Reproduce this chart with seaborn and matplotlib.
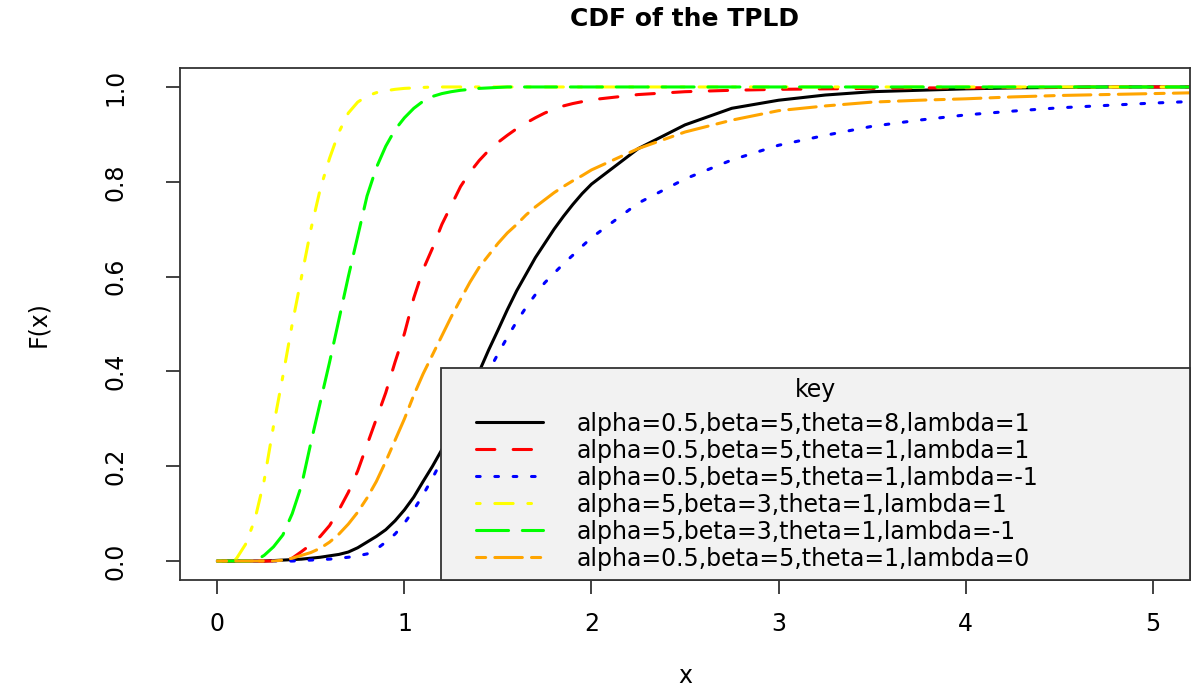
import matplotlib
matplotlib.use("Agg")
import matplotlib.pyplot as plt
import seaborn as sns
import pandas as pd
from matplotlib.lines import Line2D
from matplotlib.legend_handler import HandlerLine2D

# ---- data ----
x_vals = [0.0, 0.05, 0.1, 0.15, 0.2, 0.25, 0.3, 0.35, 0.4, 0.45, 0.5, 0.55, 0.6, 0.65,
          0.7, 0.75, 0.8, 0.85, 0.9, 0.95, 1.0, 1.05, 1.1, 1.15, 1.2, 1.25, 1.3, 1.35,
          1.4, 1.45, 1.5, 1.55, 1.6, 1.65, 1.7, 1.75, 1.8, 1.85, 1.9, 1.95, 2.0,
          2.25, 2.5, 2.75, 3.0, 3.25, 3.5, 3.75, 4.0, 4.25, 4.5, 4.75, 5.0, 5.25]

f_black = [0, 0, 0, 0, 0, 0, 0.001, 0.002, 0.003, 0.004, 0.006, 0.008, 0.011, 0.014,
           0.019, 0.028, 0.04, 0.052, 0.066, 0.085, 0.108, 0.135, 0.168, 0.2, 0.235,
           0.272, 0.312, 0.355, 0.40, 0.445, 0.487, 0.53, 0.57, 0.605, 0.64, 0.67, 0.70,
           0.727, 0.752, 0.775, 0.795,
           0.87, 0.92, 0.955, 0.972, 0.983, 0.99, 0.993, 0.996, 0.998, 0.999, 1, 1, 1]
f_red = [0, 0, 0, 0, 0, 0, 0, 0, 0.006, 0.02, 0.035, 0.052, 0.075, 0.108, 0.145, 0.19,
         0.245, 0.30, 0.355, 0.42, 0.48, 0.555, 0.615, 0.66, 0.71, 0.75, 0.79, 0.82,
         0.845, 0.866, 0.883, 0.898, 0.912, 0.924, 0.935, 0.945, 0.953, 0.96, 0.965,
         0.969, 0.973,
         0.984, 0.99, 0.993, 0.995, 0.996, 0.997, 0.998, 0.998, 0.999, 0.999, 1, 1, 1]
f_blue = [0, 0, 0, 0, 0, 0, 0, 0, 0, 0.001, 0.002, 0.003, 0.004, 0.006, 0.008, 0.011,
          0.015, 0.025, 0.04, 0.057, 0.08, 0.108, 0.14, 0.175, 0.213, 0.25, 0.288,
          0.325, 0.362, 0.40, 0.437, 0.472, 0.505, 0.535, 0.562, 0.587, 0.607, 0.627,
          0.645, 0.664, 0.682,
          0.755, 0.806, 0.846, 0.877, 0.898, 0.917, 0.93, 0.941, 0.949, 0.956, 0.961,
          0.966, 0.97]
f_yellow = [0, 0, 0.004, 0.035, 0.087, 0.17, 0.285, 0.39, 0.50, 0.60, 0.70, 0.785, 0.85,
            0.905, 0.945, 0.968, 0.981, 0.988, 0.992, 0.995, 0.997, 0.998, 0.999, 1, 1,
            1, 1, 1, 1, 1, 1, 1, 1, 1, 1, 1, 1, 1, 1, 1, 1,
            1, 1, 1, 1, 1, 1, 1, 1, 1, 1, 1, 1, 1]
f_green = [0, 0, 0, 0, 0, 0.012, 0.03, 0.055, 0.10, 0.16, 0.25, 0.335, 0.42, 0.51, 0.60,
           0.685, 0.77, 0.83, 0.875, 0.91, 0.935, 0.955, 0.97, 0.98, 0.986, 0.99, 0.993,
           0.995, 0.997, 0.998, 0.999, 1, 1, 1, 1, 1, 1, 1, 1, 1, 1,
           1, 1, 1, 1, 1, 1, 1, 1, 1, 1, 1, 1, 1]
f_orange = [0, 0, 0, 0, 0, 0, 0, 0.002, 0.006, 0.012, 0.018, 0.027, 0.04, 0.057, 0.078,
            0.103, 0.133, 0.168, 0.21, 0.255, 0.30, 0.35, 0.395, 0.435, 0.475, 0.515,
            0.552, 0.588, 0.62, 0.645, 0.67, 0.692, 0.71, 0.73, 0.747, 0.762, 0.777,
            0.79, 0.802, 0.813, 0.825,
            0.87, 0.905, 0.93, 0.95, 0.96, 0.968, 0.972, 0.975, 0.979, 0.982, 0.984,
            0.986, 0.988]

labels = [
    "alpha=0.5,beta=5,theta=8,lambda=1",
    "alpha=0.5,beta=5,theta=1,lambda=1",
    "alpha=0.5,beta=5,theta=1,lambda=-1",
    "alpha=5,beta=3,theta=1,lambda=1",
    "alpha=5,beta=3,theta=1,lambda=-1",
    "alpha=0.5,beta=5,theta=1,lambda=0",
]
series = [f_black, f_red, f_blue, f_yellow, f_green, f_orange]
colors = ["#000000", "#FF0000", "#0000FF", "#FFFF00", "#00FF00", "#FFA500"]
# R lty 1..6 (solid, dashed, dotted, dotdash, longdash, twodash)
dash_styles = [None, (6, 6), (1.2, 4.8), (1.2, 4.8, 6, 4.8), (10.5, 4.5), (3, 3, 9, 3)]
x_ticks = [0, 1, 2, 3, 4, 5]
y_ticks = [0.0, 0.2, 0.4, 0.6, 0.8, 1.0]
y_ticklabels = ["0.0", "0.2", "0.4", "0.6", "0.8", "1.0"]

sns.set_style("ticks")
plt.rcParams["font.family"] = ["DejaVu Sans"]
plt.rcParams["text.color"] = "black"
plt.rcParams["axes.labelcolor"] = "black"

fig = plt.figure(figsize=(11.92, 6.88), dpi=100)
ax = fig.add_axes([180 / 1192, 1 - 580 / 688, (1190 - 180) / 1192, (580 - 68) / 688])

lw = 2.2
for ys, lab, col, ds in zip(series, labels, colors, dash_styles):
    df = pd.DataFrame({"x": x_vals, "F": ys})
    kws = dict(color=col, linewidth=lw, label=lab, solid_capstyle="round",
               dash_capstyle="round")
    if ds is not None:
        kws["dashes"] = ds
    sns.lineplot(data=df, x="x", y="F", ax=ax, errorbar=None, sort=True, **kws)

ax.set_xlim(-0.2, 5.2)
ax.set_ylim(-0.04, 1.04)
ax.set_xticks(x_ticks)
ax.set_xticklabels([str(t) for t in x_ticks])
ax.set_yticks(y_ticks)
ax.set_yticklabels(y_ticklabels, rotation=90, va="center")

edge = "#333333"
for s in ax.spines.values():
    s.set_color(edge)
    s.set_linewidth(1.3)
    s.set_visible(True)
ax.tick_params(axis="both", direction="out", length=10, width=1.3, color=edge,
               labelsize=17, labelcolor="black")
ax.tick_params(axis="x", pad=13)
ax.tick_params(axis="y", pad=28)

ax.set_xlabel("x", fontsize=17, labelpad=20, color="black")
ax.set_ylabel("F(x)", fontsize=17, labelpad=38, color="black")
ax.set_title("CDF of the TPLD", fontsize=18, fontweight="bold", pad=30, color="black")


class OffsetLineHandler(HandlerLine2D):
    """Legend line that starts a bit in from the left of its handle box."""

    def __init__(self, offset_pt, **kw):
        super().__init__(**kw)
        self.offset_pt = offset_pt

    def get_xdata(self, legend, xdescent, ydescent, width, height, fontsize):
        xd = [-xdescent + self.offset_pt, -xdescent + width]
        return xd, [-xdescent + 0.5 * width]


x0 = (441 - 180) / 1010
leg = ax.legend(title="key", loc="lower left", bbox_to_anchor=(x0, 0.0, 1.0 - x0, 0.4),
                mode="expand", borderaxespad=0.0, fontsize=17, title_fontsize=17,
                frameon=True, fancybox=False, framealpha=1.0,
                facecolor="#F2F2F2", edgecolor=edge,
                handlelength=3.9, handletextpad=1.46, borderpad=0.4,
                labelspacing=0.127,
                handler_map={Line2D: OffsetLineHandler(18.2)})
leg.get_frame().set_linewidth(1.3)
leg._legend_box.sep = 7.0

fig.savefig("out.png", dpi=100)
